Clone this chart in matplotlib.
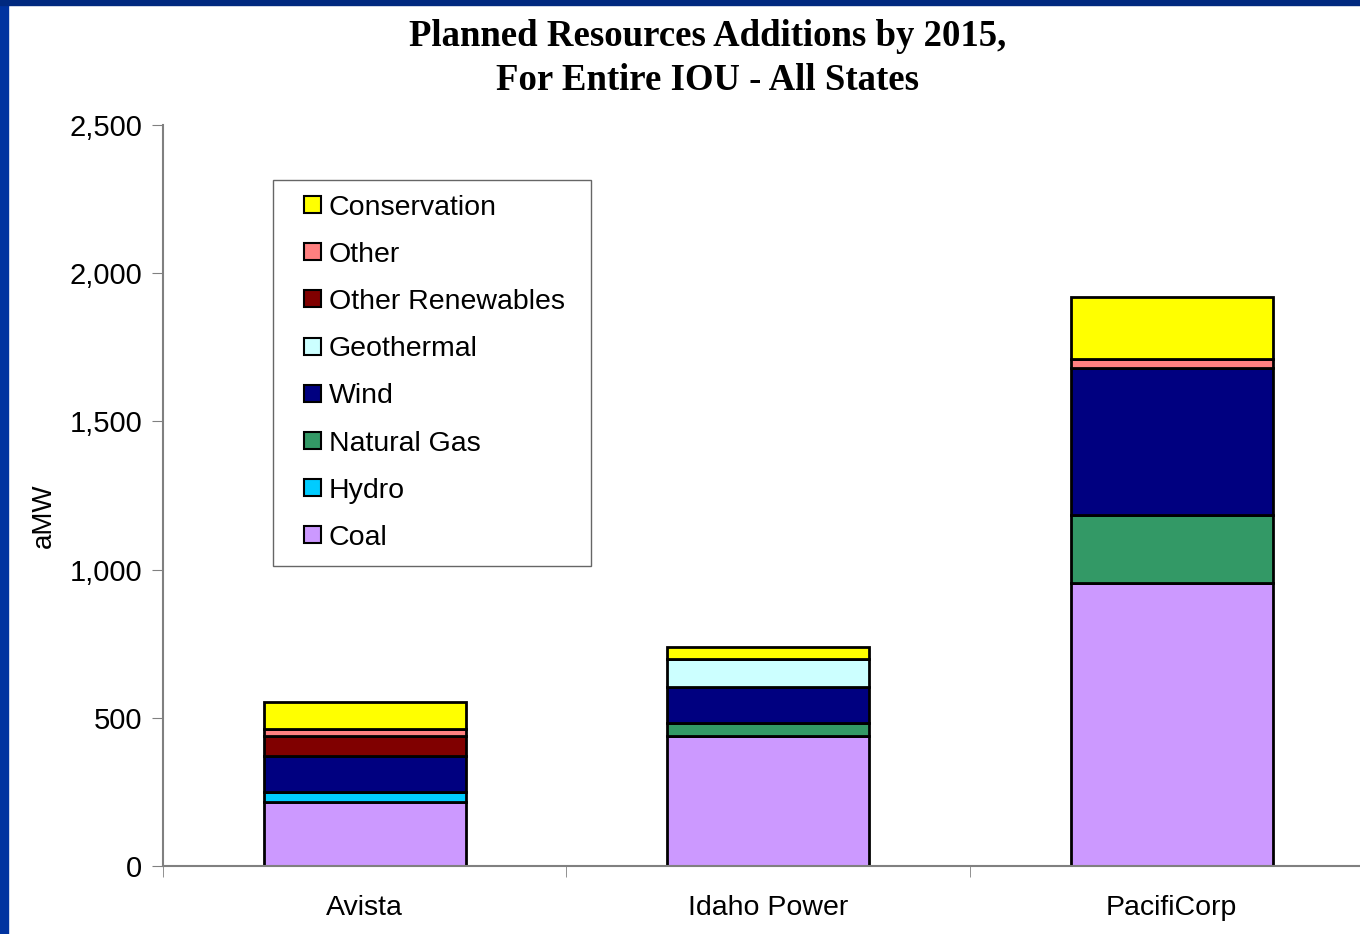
import matplotlib
matplotlib.use("Agg")
import matplotlib.pyplot as plt
from matplotlib.patches import Rectangle
from matplotlib.legend_handler import HandlerPatch
from matplotlib.ticker import FuncFormatter
import numpy as np

# Data (aMW)
utilities = ["Avista", "Idaho Power", "PacifiCorp"]
coal = [215, 440, 955]
hydro = [35, 0, 0]
natural_gas = [0, 42, 228]
wind = [122, 122, 497]
geothermal = [0, 94, 0]
other_renewables = [65, 0, 0]
other = [24, 0, 32]
conservation = [93, 42, 208]

series = [
    ("Coal", coal, "#CC99FF"),
    ("Hydro", hydro, "#00CCFF"),
    ("Natural Gas", natural_gas, "#339966"),
    ("Wind", wind, "#000080"),
    ("Geothermal", geothermal, "#CCFFFF"),
    ("Other Renewables", other_renewables, "#800000"),
    ("Other", other, "#FF8080"),
    ("Conservation", conservation, "#FFFF00"),
]

plt.rcParams['font.family'] = ['Liberation Sans', 'DejaVu Sans']

W, H = 1360, 934
fig = plt.figure(figsize=(W / 100, H / 100), dpi=100)
ax = fig.add_axes([163 / W, 68 / H, 1210.5 / W, 741 / H])

x = np.arange(len(utilities))
bottom = np.zeros(len(utilities))
handles = []
for name, vals, color in series:
    vals = np.array(vals, dtype=float)
    b = ax.bar(x, vals, width=0.5, bottom=bottom, color=color,
               edgecolor="black", linewidth=2, label=name)
    handles.append(b)
    bottom += vals

ax.set_xlim(-0.5, 2.5)
ax.set_ylim(0, 2500)
ax.set_yticks(np.arange(0, 2501, 500))
ax.yaxis.set_major_formatter(FuncFormatter(lambda v, p: f"{int(v):,}"))
ax.set_xticks(x)
ax.set_xticklabels(utilities)
ax.set_xticks([-0.5, 0.5, 1.5], minor=True)
ax.tick_params(axis="x", which="major", length=0, labelsize=20.5, pad=21)
ax.tick_params(axis="x", which="minor", length=8, direction="out", color="#808080")
ax.tick_params(axis="y", length=8, direction="out", color="#808080",
               labelsize=21, pad=7)

for s in ["top", "right"]:
    ax.spines[s].set_visible(False)
for s in ["left", "bottom"]:
    ax.spines[s].set_color("#808080")
    ax.spines[s].set_linewidth(1.5)

fig.text(44 / W, 1 - 516 / H, "aMW", rotation=90, ha="center", va="center",
         fontsize=20)


# small square swatch (17 px = 12.2 pt) at the right end of the handle box
def swatch(legend, orig_handle, xdescent, ydescent, width, height, fontsize):
    s = 12.2
    return Rectangle((-xdescent + width - s, -ydescent + (height - s) / 2), s, s)


fs = 20.5
leg = ax.legend([h[0] for h in handles[::-1]], [s[0] for s in series][::-1],
                loc="upper left", mode="expand",
                bbox_to_anchor=(110 / 1210.5, 309 / 741, 318 / 1210.5, 377 / 741),
                fontsize=fs, frameon=True, fancybox=False,
                handlelength=1.175, handleheight=0.6, handletextpad=0.28,
                labelspacing=0.745, borderpad=0.51, borderaxespad=0,
                handler_map={Rectangle: HandlerPatch(patch_func=swatch)})
for p in leg.get_patches():
    p.set_linewidth(1.5)
    p.set_edgecolor("black")
leg.get_frame().set_edgecolor("#404040")
leg.get_frame().set_linewidth(1.0)

fig.text(0.52, 1 - 37 / H, "Planned Resources Additions by 2015,",
         ha="center", va="center", fontsize=26.5, fontweight="bold",
         family="Liberation Serif")
fig.text(0.52, 1 - 81 / H, "For Entire IOU - All States",
         ha="center", va="center", fontsize=26.5, fontweight="bold",
         family="Liberation Serif")

# slide frame (blue border on left and top)
fig.patches.append(Rectangle((0, 0), 8 / W, 1, transform=fig.transFigure,
                             color="#0033A0", zorder=10))
fig.patches.append(Rectangle((0, 1 - 5 / H), 1, 5 / H, transform=fig.transFigure,
                             color="#00297F", zorder=10))

fig.savefig("out.png", dpi=100)
